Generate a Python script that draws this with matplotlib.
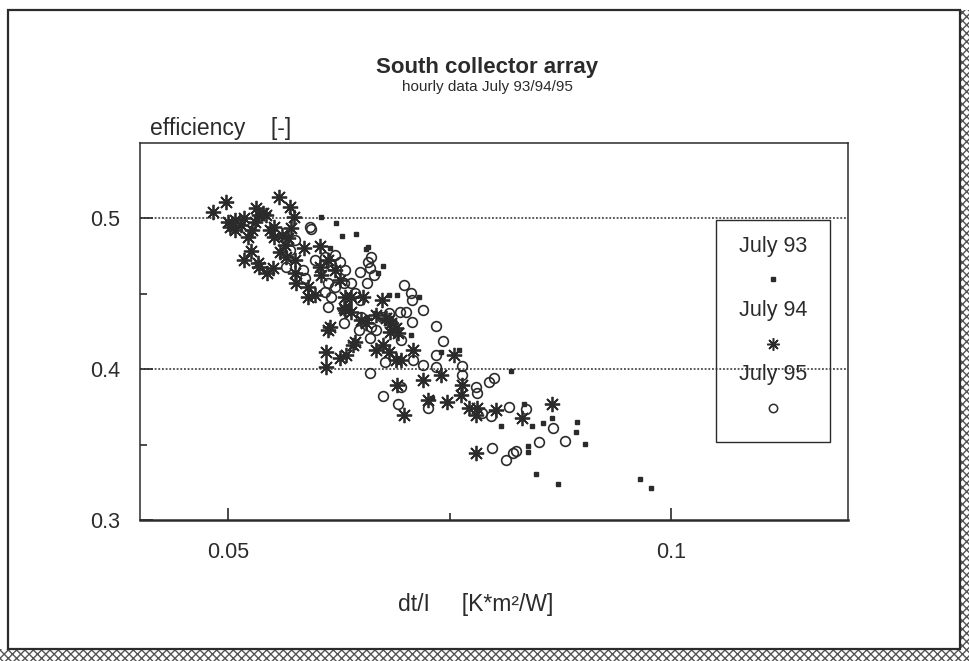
import numpy as np
import matplotlib.pyplot as plt
from matplotlib.patches import Rectangle

# ---------------- datos ---------------- #
# July 93 (cuadrados)
x93 = [0.0605, 0.0622, 0.0628, 0.0644, 0.0615, 0.0658, 0.0655, 0.0675, 0.0669, 0.0681,
       0.0690, 0.0715, 0.0656, 0.0666, 0.0706, 0.0740, 0.0760, 0.0819, 0.0730, 0.0834,
       0.0866, 0.0855, 0.0843, 0.0808, 0.0894, 0.0893, 0.0903, 0.0839, 0.0839, 0.0848,
       0.0872, 0.0965, 0.0977]
y93 = [0.5007, 0.4967, 0.4881, 0.4894, 0.4801, 0.4808, 0.4795, 0.4682, 0.4636, 0.4490,
       0.4490, 0.4477, 0.4344, 0.4371, 0.4225, 0.4113, 0.4126, 0.3987, 0.3808, 0.3768,
       0.3675, 0.3642, 0.3623, 0.3623, 0.3649, 0.3583, 0.3503, 0.3490, 0.3450, 0.3305,
       0.3238, 0.3272, 0.3212]

# July 94 (asteriscos)
x94 = [0.0482, 0.0497, 0.0499, 0.0502, 0.0507, 0.0507, 0.0514, 0.0518, 0.0531, 0.0535,
       0.0539, 0.0542, 0.0530, 0.0527, 0.0522, 0.0547, 0.0552, 0.0557, 0.0569, 0.0574,
       0.0571, 0.0552, 0.0561, 0.0567, 0.0564, 0.0558, 0.0525, 0.0518, 0.0533, 0.0535,
       0.0544, 0.0550, 0.0565, 0.0575, 0.0585, 0.0603, 0.0575, 0.0576, 0.0590, 0.0598,
       0.0590, 0.0603, 0.0605, 0.0613, 0.0620, 0.0626, 0.0632, 0.0639, 0.0652, 0.0632,
       0.0639, 0.0615, 0.0673, 0.0684, 0.0667, 0.0655, 0.0613, 0.0610, 0.0610, 0.0626,
       0.0633, 0.0641, 0.0643, 0.0630, 0.0650, 0.0667, 0.0675, 0.0681, 0.0689, 0.0695,
       0.0692, 0.0709, 0.0681, 0.0689, 0.0690, 0.0720, 0.0726, 0.0698, 0.0740, 0.0747,
       0.0755, 0.0764, 0.0763, 0.0772, 0.0781, 0.0780, 0.0802, 0.0832, 0.0866, 0.0780,
       0.0683, 0.0678]
y94 = [0.5040, 0.5106, 0.4974, 0.4940, 0.4921, 0.4987, 0.4954, 0.5000, 0.5066, 0.5020,
       0.5033, 0.5020, 0.4974, 0.4921, 0.4874, 0.4921, 0.4940, 0.5139, 0.5073, 0.5007,
       0.4934, 0.4874, 0.4887, 0.4868, 0.4821, 0.4775, 0.4781, 0.4722, 0.4702, 0.4675,
       0.4636, 0.4669, 0.4742, 0.4722, 0.4801, 0.4815, 0.4636, 0.4570, 0.4543, 0.4490,
       0.4477, 0.4675, 0.4623, 0.4722, 0.4656, 0.4589, 0.4477, 0.4477, 0.4477, 0.4391,
       0.4377, 0.4278, 0.4457, 0.4305, 0.4358, 0.4305, 0.4258, 0.4113, 0.4013, 0.4073,
       0.4093, 0.4159, 0.4179, 0.4404, 0.4325, 0.4126, 0.4159, 0.4113, 0.4060, 0.4060,
       0.4238, 0.4126, 0.4325, 0.4272, 0.3894, 0.3927, 0.3795, 0.3695, 0.3960, 0.3781,
       0.4093, 0.3894, 0.3828, 0.3742, 0.3742, 0.3695, 0.3728, 0.3675, 0.3768, 0.3444,
       0.4245, 0.4338]

# July 95 (circulos)
x95 = [0.0592, 0.0593, 0.0575, 0.0569, 0.0565, 0.0598, 0.0584, 0.0586, 0.0609, 0.0620,
       0.0626, 0.0616, 0.0632, 0.0649, 0.0660, 0.0661, 0.0658, 0.0664, 0.0656, 0.0613,
       0.0620, 0.0630, 0.0639, 0.0609, 0.0616, 0.0643, 0.0649, 0.0613, 0.0630, 0.0650,
       0.0673, 0.0681, 0.0698, 0.0706, 0.0707, 0.0720, 0.0694, 0.0701, 0.0707, 0.0647,
       0.0660, 0.0661, 0.0667, 0.0735, 0.0742, 0.0695, 0.0735, 0.0720, 0.0735, 0.0764,
       0.0764, 0.0660, 0.0677, 0.0709, 0.0780, 0.0781, 0.0794, 0.0800, 0.0695, 0.0675,
       0.0692, 0.0726, 0.0797, 0.0786, 0.0817, 0.0836, 0.0867, 0.0851, 0.0880, 0.0825,
       0.0822, 0.0814, 0.0798]
y95 = [0.4940, 0.4927, 0.4854, 0.4788, 0.4675, 0.4722, 0.4656, 0.4603, 0.4742, 0.4755,
       0.4709, 0.4689, 0.4656, 0.4642, 0.4669, 0.4742, 0.4709, 0.4623, 0.4570, 0.4570,
       0.4543, 0.4570, 0.4570, 0.4510, 0.4477, 0.4503, 0.4457, 0.4411, 0.4305, 0.4344,
       0.4344, 0.4371, 0.4556, 0.4503, 0.4457, 0.4391, 0.4377, 0.4377, 0.4311, 0.4258,
       0.4205, 0.4278, 0.4258, 0.4285, 0.4185, 0.4192, 0.4093, 0.4026, 0.4013, 0.4020,
       0.3960, 0.3974, 0.4046, 0.4060, 0.3881, 0.3841, 0.3914, 0.3940, 0.3881, 0.3821,
       0.3768, 0.3742, 0.3689, 0.3709, 0.3748, 0.3735, 0.3609, 0.3517, 0.3523, 0.3457,
       0.3444, 0.3397, 0.3477]

series_labels = ['July 93', 'July 94', 'July 95']

# ---------------- figura ---------------- #
plt.rcParams['font.family'] = ['Liberation Sans', 'DejaVu Sans']
ink = '#2b2b2b'

fig = plt.figure(figsize=(9.7, 6.61), dpi=100)
fig.patch.set_facecolor('white')

# marco de la pagina con sombra rayada
fig.patches.append(Rectangle((0.990, 0.0), 0.010, 0.985, transform=fig.transFigure,
                             facecolor='white', edgecolor='#555555', hatch='xxxx', lw=0))
fig.patches.append(Rectangle((0.0, 0.0), 1.0, 0.018, transform=fig.transFigure,
                             facecolor='white', edgecolor='#555555', hatch='xxxx', lw=0))
fig.patches.append(Rectangle((0.008, 0.018), 0.982, 0.967, transform=fig.transFigure,
                             facecolor='none', edgecolor=ink, lw=1.6))

ax = fig.add_axes([0.1443, 0.2133, 0.7299, 0.5704])
ax.set_facecolor('none')

ax.plot(x93, y93, ls='none', marker='s', ms=3.4, color=ink)
ax.plot(x94, y94, ls='none', marker=(8, 2, 0), ms=11, mew=1.3, color=ink)
ax.plot(x95, y95, ls='none', marker='o', ms=7, mfc='none', mew=1.2, color=ink)

ax.set_xlim(0.04, 0.12)
ax.set_ylim(0.3, 0.55)
ax.set_xticks([0.05, 0.1])
ax.set_xticklabels(['0.05', '0.1'])
ax.set_xticks([0.075], minor=True)
ax.set_yticks([0.3, 0.4, 0.5])
ax.set_yticklabels(['0.3', '0.4', '0.5'])
ax.set_yticks([0.35, 0.45], minor=True)
ax.tick_params(direction='in', length=9, width=1.2, labelsize=15.5, colors=ink, pad=14)
ax.tick_params(which='minor', direction='in', length=5, width=1.2, colors=ink)
ax.tick_params(axis='x', pad=16)
for yv in [0.4, 0.5]:
    ax.axhline(yv, color=ink, lw=1.1, ls=(0, (1.2, 1.2)), zorder=0)
for s in ax.spines.values():
    s.set_color(ink)
    s.set_linewidth(1.1)
ax.spines['bottom'].set_linewidth(1.8)

# leyenda manual
ax.add_patch(Rectangle((0.813, 0.207), 0.162, 0.588, transform=ax.transAxes,
                       facecolor='none', edgecolor=ink, lw=1.0))
mk = [dict(marker='s', ms=3.4, color=ink),
      dict(marker=(8, 2, 0), ms=9, mew=1.1, color=ink),
      dict(marker='o', ms=6, mfc='none', mew=1.1, color=ink)]
for i, lab in enumerate(series_labels):
    ty = 0.725 - i * 0.17
    ax.text(0.894, ty, lab, transform=ax.transAxes, ha='center', va='center',
            fontsize=15.5, color=ink)
    ax.plot([0.894], [ty - 0.087], transform=ax.transAxes, clip_on=False, ls='none', **mk[i])

fig.text(0.502, 0.898, 'South collector array', ha='center', va='center', fontsize=16,
         weight='bold', color=ink)
fig.text(0.502, 0.868, 'hourly data July 93/94/95', ha='center', va='center', fontsize=11,
         color=ink)
fig.text(0.155, 0.805, 'efficiency    [-]', ha='left', va='center', fontsize=16.5, color=ink)
fig.text(0.490, 0.085, 'dt/I     [K*m²/W]', ha='center', va='center', fontsize=16.5, color=ink)

fig.savefig('out.png', dpi=100)
